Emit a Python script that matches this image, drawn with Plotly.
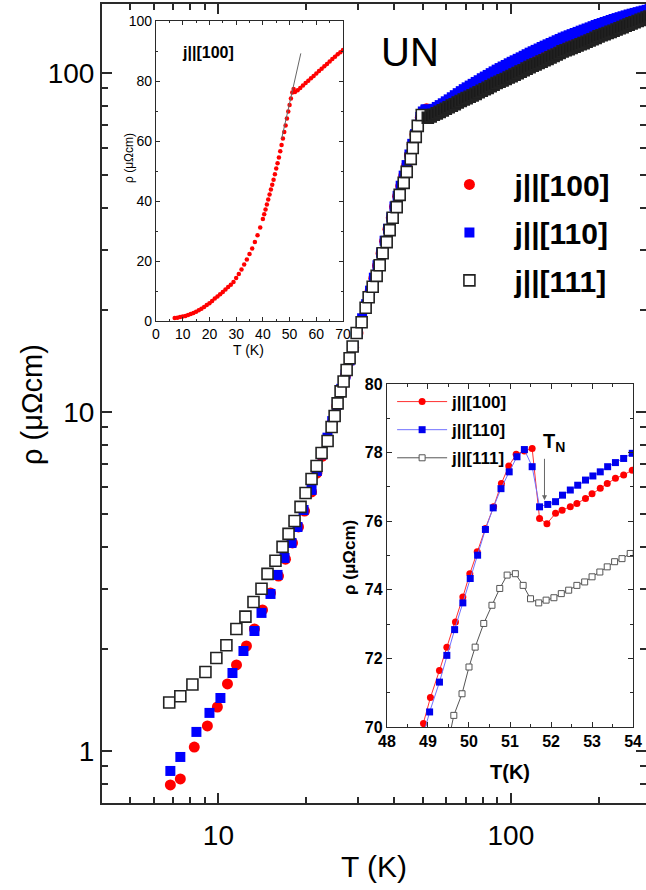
import plotly.graph_objects as go

FONT = "Liberation Sans, Arial, sans-serif"

# ---------------- main panel (log-log) ----------------
# j||[100]
T_100 = [6.85, 7.41, 8.27, 9.17, 9.92, 10.74, 11.53, 12.47, 13.28, 14.15, 15.07, 16.05, 16.96, 17.92, 18.79, 19.70, 20.82,
         21.7, 22.6, 23.6, 24.5, 25.4, 26.3, 27.2, 28.1, 29.0, 30.0, 31.0, 32.0, 33.0, 34.0, 35.0, 36.0, 37.0, 38.0, 39.0,
         40.0, 41.0, 42.0, 43.0, 44.0, 45.0, 46.0, 47.0, 48.0, 49.0, 50.0, 51.0, 51.5,
         52, 53.2, 54.5, 55.8, 57.1, 58.5, 59.9, 61.3, 62.8, 64.3, 65.8, 67.4, 69, 70.6, 72.3, 74, 75.8, 77.6, 79.5, 81.4,
         83.3, 85.3, 87.3, 89.4, 91.5, 93.7, 96, 98.3, 100.6, 103, 105.5, 108, 110.6, 113.2, 115.9, 118.7, 121.5, 124.4,
         127.4, 130.4, 133.5, 136.7, 140, 143.4, 146.8, 150.3, 153.9, 157.6, 161.3, 165.2, 169.1, 173.2, 177.3, 181.5,
         185.9, 190.3, 194.9, 199.5, 204.3, 209.2, 214.2, 219.3, 224.5, 229.9, 235.4, 241, 246.8, 252.7, 258.7, 264.9,
         271.3, 277.8, 284.4, 291.2, 298]
rho_100 = [0.794, 0.827, 1.027, 1.185, 1.348, 1.576, 1.794, 2.040, 2.291, 2.606, 2.925, 3.28, 3.68, 4.11, 4.58, 5.10, 5.81,
           6.6, 7.4, 8.3, 9.3, 10.4, 11.6, 12.8, 14.1, 15.5, 17.1, 18.8, 20.7, 22.7, 24.8, 27.0, 29.4, 31.9, 34.6, 37.4,
           40.3, 43.3, 46.4, 49.7, 53.3, 57.3, 61.6, 65.8, 70.0, 73.9, 76.7, 77.9, 78.4,
           76.1, 76.9, 77.6, 78.5, 79.4, 80.4, 81.4, 82.5, 83.7, 84.9, 86.0, 87.2, 88.4, 89.5, 90.6, 91.7, 92.9, 94.0, 95.3,
           96.4, 97.5, 98.7, 99.9, 101.1, 102.2, 103.3, 104.4, 105.6, 106.7, 107.8, 108.9, 110.0, 111.2, 112.4, 113.6,
           114.7, 115.8, 116.9, 118.1, 119.2, 120.3, 121.4, 122.5, 123.7, 124.8, 126.0, 127.0, 128.0, 129.0, 130.0, 131.0,
           132.1, 133.1, 134.1, 135.1, 136.2, 137.3, 138.3, 139.2, 140.2, 141.1, 142.1, 143.1, 144.0, 144.9, 145.8, 146.7,
           147.6, 148.4, 149.2, 150.0, 150.8, 151.6, 152.4, 153.2]

# j||[110]
T_110 = [6.85, 7.41, 8.41, 9.32, 10.16, 11.17, 12.18, 13.28, 14.04, 15.07, 15.93, 16.83, 17.78, 18.64, 19.55, 20.82,
         21.7, 22.6, 23.6, 24.5, 25.4, 26.3, 27.2, 28.1, 29.0, 30.0, 31.0, 32.0, 33.0, 34.0, 35.0, 36.0, 37.0, 38.0, 39.0,
         40.0, 41.0, 42.0, 43.0, 44.0, 45.0, 46.0, 47.0, 48.0, 49.0, 50.0, 51.0, 51.35,
         52, 53.2, 54.5, 55.8, 57.1, 58.5, 59.9, 61.3, 62.8, 64.3, 65.8, 67.4, 69, 70.6, 72.3, 74, 75.8, 77.6, 79.5, 81.4,
         83.3, 85.3, 87.3, 89.4, 91.5, 93.7, 96, 98.3, 100.6, 103, 105.5, 108, 110.6, 113.2, 115.9, 118.7, 121.5, 124.4,
         127.4, 130.4, 133.5, 136.7, 140, 143.4, 146.8, 150.3, 153.9, 157.6, 161.3, 165.2, 169.1, 173.2, 177.3, 181.5,
         185.9, 190.3, 194.9, 199.5, 204.3, 209.2, 214.2, 219.3, 224.5, 229.9, 235.4, 241, 246.8, 252.7, 258.7, 264.9,
         271.3, 277.8, 284.4, 291.2, 298]
rho_110 = [0.873, 0.960, 1.138, 1.295, 1.433, 1.698, 1.972, 2.259, 2.554, 2.905, 3.306, 3.710, 4.108, 4.578, 5.139, 5.888,
           6.7, 7.5, 8.4, 9.4, 10.5, 11.7, 12.9, 14.2, 15.6, 17.2, 18.9, 20.8, 22.8, 24.9, 27.1, 29.5, 32.0, 34.7, 37.5,
           40.4, 43.4, 46.5, 49.8, 53.5, 57.5, 61.8, 66.0, 70.3, 74.2, 77.0, 78.0, 78.1,
           76.6, 77.4, 78.4, 79.4, 80.4, 81.4, 82.5, 83.6, 84.8, 86.0, 87.2, 88.4, 89.6, 90.7, 91.8, 92.9, 94.1, 95.2, 96.5,
           97.6, 98.7, 99.9, 101.1, 102.3, 103.4, 104.5, 105.6, 106.8, 107.9, 109.0, 110.1, 111.2, 112.4, 113.6, 114.8,
           115.9, 117.0, 118.1, 119.3, 120.4, 121.5, 122.6, 123.7, 124.9, 126.0, 127.2, 128.2, 129.2, 130.2, 131.2, 132.2,
           133.3, 134.3, 135.3, 136.3, 137.4, 138.5, 139.5, 140.4, 141.4, 142.3, 143.3, 144.3, 145.2, 146.1, 147.0, 147.9,
           148.8, 149.6, 150.4, 151.2, 152.0, 152.8, 153.6, 154.4]

# j||[111]
T_111 = [6.79, 7.41, 8.15, 9.03, 9.84, 10.65, 11.52, 12.37, 13.18, 14.04, 14.72, 15.67, 16.57, 17.37, 18.21, 19.09, 19.86,
         20.82, 21.66, 22.53, 23.62, 24.38, 24.97, 25.56, 26.17, 26.80, 27.44, 28.09, 28.77, 29.69, 30.88, 31.87, 32.64,
         33.69, 34.76, 35.60, 36.44, 37.61, 38.51, 39.43, 40.70, 41.67, 43.01, 44.04, 45.46, 46.18, 47.29, 48.04, 49.58,
         52, 53.2, 54.5, 55.8, 57.1, 58.5, 59.9, 61.3, 62.8, 64.3, 65.8, 67.4, 69, 70.6, 72.3, 74, 75.8, 77.6, 79.5, 81.4,
         83.3, 85.3, 87.3, 89.4, 91.5, 93.7, 96, 98.3, 100.6, 103, 105.5, 108, 110.6, 113.2, 115.9, 118.7, 121.5, 124.4,
         127.4, 130.4, 133.5, 136.7, 140, 143.4, 146.8, 150.3, 153.9, 157.6, 161.3, 165.2, 169.1, 173.2, 177.3, 181.5,
         185.9, 190.3, 194.9, 199.5, 204.3, 209.2, 214.2, 219.3, 224.5, 229.9, 235.4, 241, 246.8, 252.7, 258.7, 264.9,
         271.3, 277.8, 284.4, 291.2, 298]
rho_111 = [1.39, 1.45, 1.57, 1.71, 1.88, 2.05, 2.29, 2.49, 2.75, 3.01, 3.33, 3.64, 4.00, 4.37, 4.77, 5.25, 5.77,
           6.34, 6.93, 7.57, 8.21, 9.03, 9.73, 10.6, 11.5, 12.3, 13.3, 14.4, 15.6, 17.1, 18.4, 20.3, 21.8,
           23.4, 25.2, 27.1, 29.4, 31.7, 34.4, 37.4, 40.2, 43.7, 47.4, 51.1, 55.8, 60.1, 64.8, 69.8, 75.2,
           73.8, 74.5, 75.3, 76.0, 76.8, 77.6, 78.4, 79.2, 80.1, 80.9, 81.8, 82.7, 83.5, 84.3, 85.1, 85.9, 86.8, 87.7, 88.6,
           89.5, 90.4, 91.4, 92.3, 93.4, 94.2, 95.1, 96.0, 97.0, 97.9, 98.9, 99.9, 100.9, 101.9, 103.0, 104.1, 105.1,
           106.0, 107.0, 108.0, 109.0, 110.1, 111.2, 112.3, 113.4, 114.6, 115.8, 116.7, 117.6, 118.6, 119.5, 120.5,
           121.5, 122.5, 123.6, 124.7, 125.8, 126.9, 128.2, 129.2, 130.2, 131.2, 132.2, 133.3, 134.4, 135.5, 136.6,
           137.8, 138.9, 140.1, 141.2, 142.3, 143.4, 144.5, 145.7, 146.8]

series_names = ["j||[100]", "j||[110]", "j||[111]"]
main_xticks = [10, 100]
main_yticks = [1, 10, 100]

# ---------------- inset 1 (linear, j||[100]) ----------------
T_in1 = [7, 8, 9, 10, 11, 12, 13, 14, 15, 16, 17, 18, 19, 20, 21, 22, 23, 24, 25, 26, 27, 28, 29, 30, 31, 32, 33, 34, 35,
         36, 37, 38, 39, 40, 40.5, 41, 41.5, 42, 42.5, 43, 43.5, 44, 44.5, 45, 45.5, 46, 46.5, 47, 47.5, 48, 48.5, 49,
         49.5, 50, 50.5, 51, 51.5, 52, 53, 54, 55, 56, 57, 58, 59, 60, 61, 62, 63, 64, 65, 66, 67, 68, 69, 70]
rho_in1 = [1.0, 1.1, 1.3, 1.5, 1.7, 2.0, 2.3, 2.7, 3.1, 3.6, 4.1, 4.7, 5.3, 5.9, 6.7, 7.5, 8.2, 8.9, 9.7, 10.5, 11.3,
           12.1, 13.0, 14.3, 15.7, 17.2, 18.8, 20.5, 22.3, 24.2, 26.3, 28.6, 31.2, 34.0, 35.6, 37.2, 38.8, 40.5, 42.2,
           43.8, 45.4, 47.1, 48.9, 50.8, 52.6, 54.5, 56.6, 58.7, 60.8, 63.0, 65.2, 67.5, 69.8, 72.0, 74.2, 76.2, 77.3,
           76.3, 76.9, 77.7, 78.5, 79.3, 80.1, 80.9, 81.7, 82.5, 83.3, 84.1, 84.9, 85.7, 86.5, 87.3, 88.1, 88.9, 89.6, 90.3]
T_fit = [47.0, 54.2]
rho_fit = [60.7, 89.2]

# ---------------- inset 2 (linear, around T_N) ----------------
T_in2_100 = [48.7, 48.89, 49.06, 49.28, 49.46, 49.67, 49.85, 50.02, 50.20, 50.40, 50.60, 50.79, 50.97, 51.15, 51.35,
             51.54, 51.72, 51.90, 52.11, 52.27, 52.47, 52.63, 52.84, 53.0, 53.2, 53.37, 53.57, 53.77, 53.98, 54.1]
rho_in2_100 = [69.3, 70.10, 70.86, 71.65, 72.33, 73.06, 73.79, 74.47, 75.11, 75.79, 76.42, 77.10, 77.61, 77.95, 78.05,
               78.12, 76.08, 75.93, 76.23, 76.32, 76.42, 76.52, 76.66, 76.80, 76.96, 77.10, 77.25, 77.35, 77.49, 77.58]
T_in2_110 = [48.85, 49.04, 49.28, 49.46, 49.65, 49.85, 50.03, 50.21, 50.40, 50.59, 50.78, 50.98, 51.17, 51.35, 51.54,
             51.72, 51.92, 52.11, 52.28, 52.47, 52.65, 52.84, 53.02, 53.20, 53.38, 53.57, 53.77, 53.98, 54.1]
rho_in2_110 = [69.6, 70.44, 71.31, 72.09, 72.84, 73.62, 74.33, 75.01, 75.76, 76.39, 76.95, 77.44, 77.88, 78.09, 77.59,
               76.42, 76.49, 76.57, 76.76, 76.91, 77.05, 77.20, 77.32, 77.44, 77.59, 77.71, 77.83, 77.98, 78.06]
T_in2_111 = [49.5, 49.63, 49.83, 50.0, 50.15, 50.36, 50.56, 50.75, 50.93, 51.13, 51.32, 51.50, 51.70, 51.88, 52.07,
             52.25, 52.43, 52.63, 52.82, 53.0, 53.19, 53.37, 53.55, 53.73, 53.93, 54.1]
rho_in2_111 = [69.6, 70.34, 70.97, 71.75, 72.33, 73.02, 73.55, 74.04, 74.43, 74.47, 74.13, 73.74, 73.62, 73.70, 73.77,
               73.89, 73.99, 74.13, 74.23, 74.38, 74.52, 74.67, 74.82, 74.91, 75.06, 75.2]
TN_x, TN_y = 51.84, 76.61

fig = go.Figure()

# open squares of j||[111]: above T_N the dense points merge into a solid dark band
fill_111 = ["white" if t < 51 else "#1a1a1a" for t in T_111]

# main traces
fig.add_trace(go.Scatter(x=T_100, y=rho_100, mode="markers", name=series_names[0], xaxis="x", yaxis="y",
                         marker=dict(symbol="circle", size=11, color="#ff0000", line=dict(width=0)),
                         legend="legend", legendgroup="a"))
fig.add_trace(go.Scatter(x=T_110, y=rho_110, mode="markers", name=series_names[1], xaxis="x", yaxis="y",
                         marker=dict(symbol="square", size=10, color="#0000ff", line=dict(width=0)),
                         legend="legend", legendgroup="b"))
fig.add_trace(go.Scatter(x=T_111, y=rho_111, mode="markers", name=series_names[2], xaxis="x", yaxis="y",
                         marker=dict(symbol="square", size=11, color=fill_111, line=dict(width=1.6, color="#222")),
                         legend="legend", legendgroup="c"))

# inset 1
fig.add_trace(go.Scatter(x=T_in1, y=rho_in1, mode="markers", xaxis="x2", yaxis="y2", showlegend=False,
                         marker=dict(symbol="circle", size=4.5, color="#ff0000", line=dict(width=0))))
fig.add_trace(go.Scatter(x=T_fit, y=rho_fit, mode="lines", xaxis="x2", yaxis="y2", showlegend=False,
                         line=dict(color="#666", width=1)))

# inset 2
fig.add_trace(go.Scatter(x=T_in2_100, y=rho_in2_100, mode="lines+markers", name=series_names[0], xaxis="x3", yaxis="y3",
                         line=dict(color="#ff3030", width=1),
                         marker=dict(symbol="circle", size=7, color="#ff0000"), legend="legend2", legendgroup="d"))
fig.add_trace(go.Scatter(x=T_in2_110, y=rho_in2_110, mode="lines+markers", name=series_names[1], xaxis="x3", yaxis="y3",
                         line=dict(color="#7070ff", width=1),
                         marker=dict(symbol="square", size=7, color="#0000ee"), legend="legend2", legendgroup="e"))
fig.add_trace(go.Scatter(x=T_in2_111, y=rho_in2_111, mode="lines+markers", name=series_names[2], xaxis="x3", yaxis="y3",
                         line=dict(color="#555", width=1),
                         marker=dict(symbol="square", size=6, color="white", line=dict(width=1, color="#555")),
                         legend="legend2", legendgroup="f"))

AX = "#2a2a2a"
main_common = dict(type="log", showline=True, linewidth=2, linecolor=AX, mirror="allticks", ticks="inside",
                   ticklen=10, tickwidth=1.5, tickcolor=AX, showgrid=False, zeroline=False, automargin=False,
                   tickfont=dict(family=FONT, size=28, color="black"))
inset_common = dict(showline=True, linewidth=1.2, linecolor=AX, mirror="allticks", ticks="inside", tickcolor=AX,
                    showgrid=False, zeroline=False, automargin=False)

fig.update_layout(
    width=646, height=890, margin=dict(l=0, r=0, t=0, b=0, pad=0),
    paper_bgcolor="white", plot_bgcolor="white",
    xaxis=dict(**main_common, domain=[0.1579, 1.0], range=[0.602, 2.462], anchor="y",
               tickvals=main_xticks, ticktext=[str(v) for v in main_xticks], ticklabelstandoff=6,
               minor=dict(ticks="inside", ticklen=6, tickwidth=1.5, tickcolor=AX,
                          tickvals=[5, 6, 7, 8, 9, 20, 30, 40, 50, 60, 70, 80, 90, 200])),
    yaxis=dict(**main_common, domain=[0.0978, 0.9955], range=[-0.1534, 2.2035], anchor="x",
               tickvals=main_yticks, ticktext=[str(v) for v in main_yticks],
               minor=dict(ticks="inside", ticklen=6, tickwidth=1.5, tickcolor=AX,
                          tickvals=[0.8, 0.9, 2, 3, 4, 5, 6, 7, 8, 9, 20, 30, 40, 50, 60, 70, 80, 90])),
    xaxis2=dict(**inset_common, domain=[0.2415, 0.531], range=[0, 70], anchor="y2", dtick=10, ticklen=4,
                ticklabelstandoff=0, tickfont=dict(family=FONT, size=14, color="black"),
                minor=dict(ticks="inside", ticklen=2, dtick=5, tickcolor=AX)),
    yaxis2=dict(**inset_common, domain=[0.6393, 0.9764], range=[0, 100], anchor="x2", dtick=20, ticklen=4,
                tickfont=dict(family=FONT, size=14, color="black"),
                minor=dict(ticks="inside", ticklen=2, dtick=10, tickcolor=AX)),
    xaxis3=dict(**inset_common, domain=[0.599, 0.980], range=[48, 54], anchor="y3", dtick=1, ticklen=5,
                tickfont=dict(family=FONT, size=16, color="black", weight="bold"),
                minor=dict(ticks="inside", ticklen=3, dtick=0.5, tickcolor=AX)),
    yaxis3=dict(**inset_common, domain=[0.1831, 0.5685], range=[70, 80], anchor="x3", dtick=2, ticklen=5,
                tickfont=dict(family=FONT, size=16, color="black", weight="bold"),
                minor=dict(ticks="inside", ticklen=3, dtick=1, tickcolor=AX)),
    legend=dict(x=0.657, y=0.822, xanchor="left", yanchor="top", bgcolor="rgba(0,0,0,0)", itemwidth=80,
                traceorder="grouped", tracegroupgap=6,
                font=dict(family=FONT, size=30, color="black", weight="bold")),
    legend2=dict(x=0.607, y=0.5685, xanchor="left", yanchor="top", bgcolor="rgba(0,0,0,0)", itemwidth=50,
                 traceorder="grouped", tracegroupgap=3,
                 font=dict(family=FONT, size=17, color="black", weight="bold")),
)

ann_c = dict(xanchor="center", yanchor="middle", showarrow=False)
ann = [
    dict(text="UN", x=410 / 646, y=1 - 52 / 890, xref="paper", yref="paper", **ann_c,
         font=dict(family=FONT, size=40, color="black")),
    dict(text="T (K)", x=374 / 646, y=1 - 866 / 890, xref="paper", yref="paper", **ann_c,
         font=dict(family=FONT, size=30, color="black")),
    dict(text="ρ (μΩcm)", x=32 / 646, y=1 - 405 / 890, xref="paper", yref="paper", textangle=-90, **ann_c,
         font=dict(family=FONT, size=29, color="black")),
    dict(text="<b>j||[100]</b>", x=208 / 646, y=1 - 53 / 890, xref="paper", yref="paper", **ann_c,
         font=dict(family=FONT, size=16, color="black")),
    dict(text="T (K)", x=248 / 646, y=1 - 350 / 890, xref="paper", yref="paper", **ann_c,
         font=dict(family=FONT, size=14, color="black")),
    dict(text="ρ (μΩcm)", x=129 / 646, y=1 - 158 / 890, xref="paper", yref="paper", textangle=-90, **ann_c,
         font=dict(family=FONT, size=12, color="black")),
    dict(text="<b>T(K)</b>", x=510 / 646, y=1 - 772 / 890, xref="paper", yref="paper", **ann_c,
         font=dict(family=FONT, size=20, color="black")),
    dict(text="<b>ρ (μΩcm)</b>", x=349 / 646, y=1 - 558 / 890, xref="paper", yref="paper", textangle=-90, **ann_c,
         font=dict(family=FONT, size=17, color="black")),
    dict(text="<b>T<sub>N</sub></b>", x=52.07, y=78.3, xref="x3", yref="y3", **ann_c,
         font=dict(family=FONT, size=20, color="black")),
    dict(text="", x=TN_x, y=TN_y, xref="x3", yref="y3", showarrow=True, ax=0, ay=-43, arrowhead=2, arrowsize=1,
         arrowwidth=1, arrowcolor="#666"),
]
fig.update_layout(annotations=ann)

fig.write_html("out.html")
